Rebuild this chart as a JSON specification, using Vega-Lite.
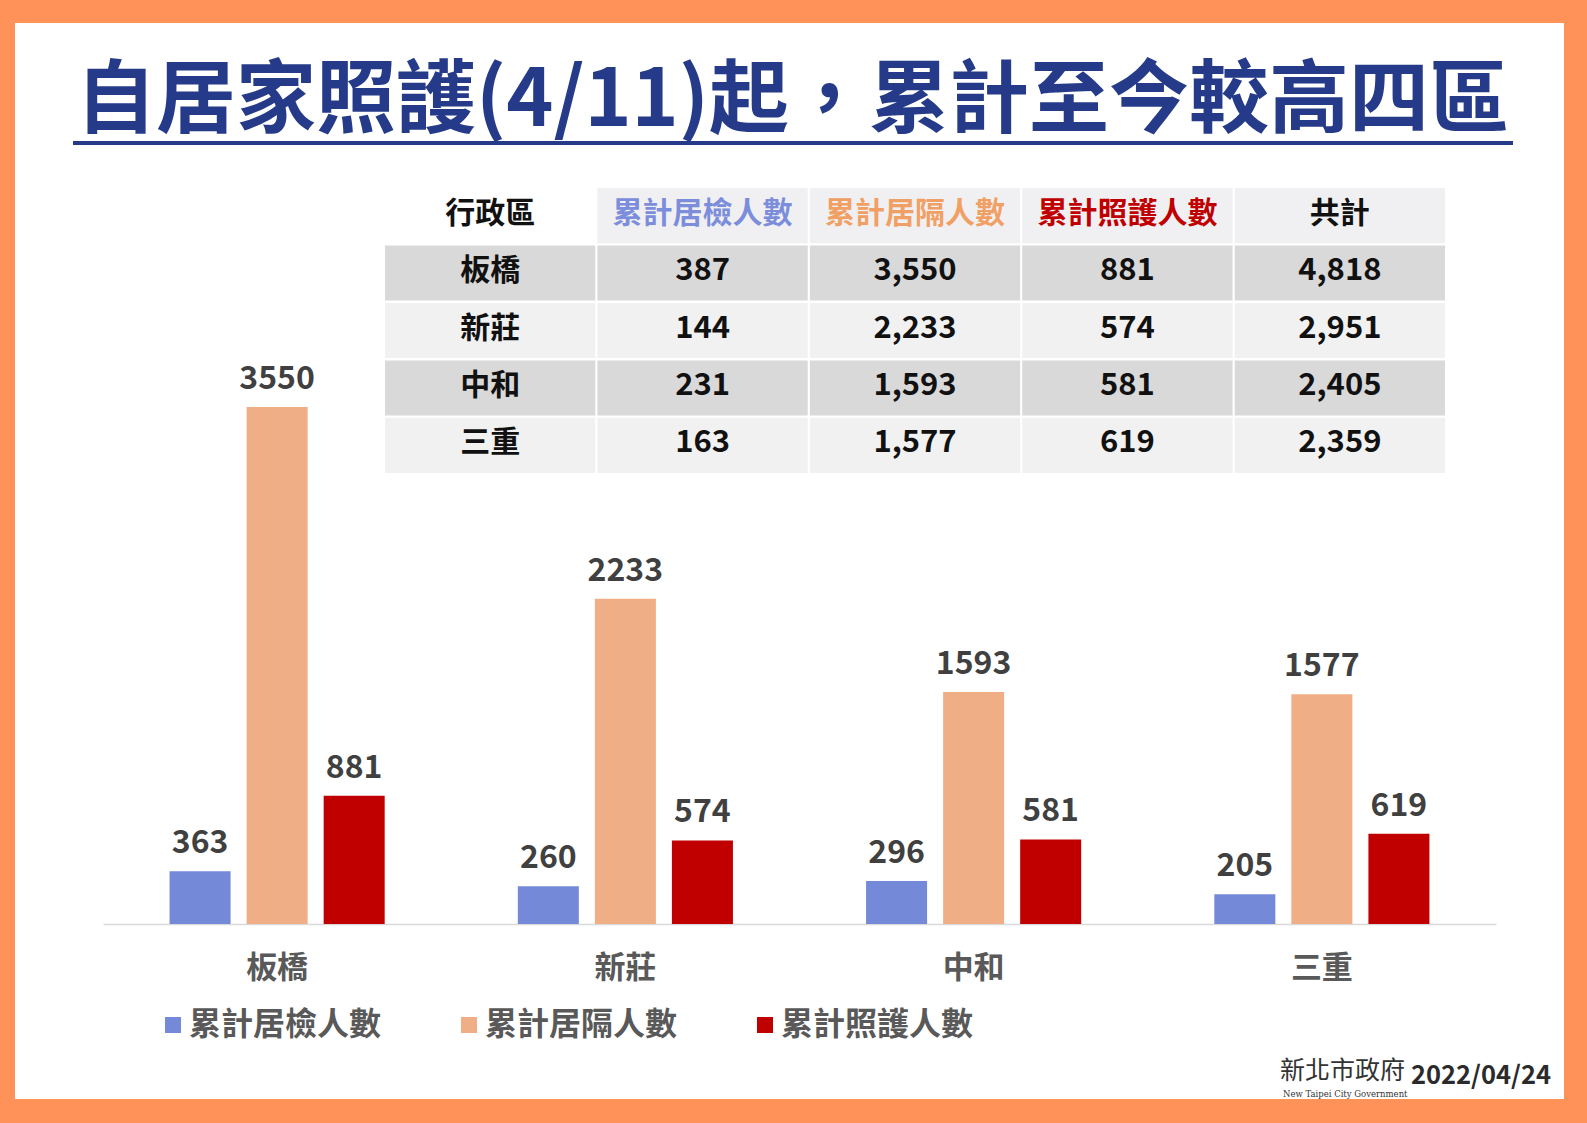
{
  "$schema": "https://vega.github.io/schema/vega-lite/v6.json",
  "width": 1549,
  "height": 1076,
  "autosize": "none",
  "padding": {"left": 15, "top": 23, "right": 23, "bottom": 24},
  "background": "#FF9259",
  "config": {"view": {"fill": "#FFFFFF", "stroke": null}, "font": "Noto Sans CJK TC"},
  "title": {"text": "自居家照護(4/11)起，累計至今較高四區", "font": "Noto Sans CJK TC", "fontSize": 80, "fontWeight": "bold", "color": "#253B8A", "anchor": "middle", "baseline": "alphabetic", "offset": 0, "dy": 183, "dx": 3},
  "datasets": {
    "bars": [
      {"district": "板橋", "series": "累計居檢人數", "value": 363},
      {"district": "板橋", "series": "累計居隔人數", "value": 3550},
      {"district": "板橋", "series": "累計照護人數", "value": 881},
      {"district": "新莊", "series": "累計居檢人數", "value": 260},
      {"district": "新莊", "series": "累計居隔人數", "value": 2233},
      {"district": "新莊", "series": "累計照護人數", "value": 574},
      {"district": "中和", "series": "累計居檢人數", "value": 296},
      {"district": "中和", "series": "累計居隔人數", "value": 1593},
      {"district": "中和", "series": "累計照護人數", "value": 581},
      {"district": "三重", "series": "累計居檢人數", "value": 205},
      {"district": "三重", "series": "累計居隔人數", "value": 1577},
      {"district": "三重", "series": "累計照護人數", "value": 619}
    ],
    "table": [
      {"district": "板橋", "累計居檢人數": 387, "累計居隔人數": 3550, "累計照護人數": 881, "共計": 4818},
      {"district": "新莊", "累計居檢人數": 144, "累計居隔人數": 2233, "累計照護人數": 574, "共計": 2951},
      {"district": "中和", "累計居檢人數": 231, "累計居隔人數": 1593, "累計照護人數": 581, "共計": 2405},
      {"district": "三重", "累計居檢人數": 163, "累計居隔人數": 1577, "累計照護人數": 619, "共計": 2359}
    ],
    "header": [
      {"col": "district", "label": "行政區"},
      {"col": "累計居檢人數", "label": "累計居檢人數"},
      {"col": "累計居隔人數", "label": "累計居隔人數"},
      {"col": "累計照護人數", "label": "累計照護人數"},
      {"col": "共計", "label": "共計"}
    ],
    "footer": [
      {"org": "新北市政府", "en": "New Taipei City Government", "date": "2022/04/24"}
    ]
  },
  "layer": [
    {
      "layer": [
        {
          "data": {"name": "header"},
          "transform": [{"filter": "datum.col !== 'district'"}],
          "mark": {"type": "rect", "fill": "#F0F0F2"},
          "encoding": {
            "x": {"field": "col", "type": "nominal", "scale": {"type": "band", "domain": ["district", "累計居檢人數", "累計居隔人數", "累計照護人數", "共計"], "range": [370, 1430], "paddingInner": 0.01, "paddingOuter": 0}, "axis": null},
            "y": {"datum": "header", "type": "nominal", "scale": {"type": "band", "domain": ["header", "板橋", "新莊", "中和", "三重"], "range": [165, 450], "paddingInner": 0.04, "paddingOuter": 0}, "axis": null}
          }
        },
        {
          "data": {"name": "table"},
          "transform": [{"fold": ["district", "累計居檢人數", "累計居隔人數", "累計照護人數", "共計"], "as": ["col", "v"]}],
          "mark": {"type": "rect"},
          "encoding": {
            "x": {"field": "col", "type": "nominal", "scale": {"type": "band", "domain": ["district", "累計居檢人數", "累計居隔人數", "累計照護人數", "共計"], "range": [370, 1430], "paddingInner": 0.01, "paddingOuter": 0}, "axis": null},
            "y": {"field": "district", "type": "nominal", "scale": {"type": "band", "domain": ["header", "板橋", "新莊", "中和", "三重"], "range": [165, 450], "paddingInner": 0.04, "paddingOuter": 0}, "axis": null},
            "fill": {"field": "district", "type": "nominal", "scale": {"domain": ["板橋", "新莊", "中和", "三重"], "range": ["#D9D9D9", "#F1F1F1", "#D9D9D9", "#F1F1F1"]}, "legend": null}
          }
        },
        {
          "data": {"name": "header"},
          "mark": {"type": "text", "fontSize": 30, "fontWeight": "bold", "baseline": "middle", "align": "center", "dy": -2},
          "encoding": {
            "x": {"field": "col", "type": "nominal", "scale": {"type": "band", "domain": ["district", "累計居檢人數", "累計居隔人數", "累計照護人數", "共計"], "range": [370, 1430], "paddingInner": 0.01, "paddingOuter": 0}, "axis": null},
            "y": {"datum": "header", "type": "nominal", "scale": {"type": "band", "domain": ["header", "板橋", "新莊", "中和", "三重"], "range": [165, 450], "paddingInner": 0.04, "paddingOuter": 0}, "axis": null},
            "text": {"field": "label", "type": "nominal"},
            "color": {"field": "col", "type": "nominal", "scale": {"domain": ["district", "累計居檢人數", "累計居隔人數", "累計照護人數", "共計"], "range": ["#111111", "#7B8DDB", "#F0A064", "#C00000", "#111111"]}, "legend": null}
          }
        },
        {
          "data": {"name": "table"},
          "mark": {"type": "text", "fontSize": 30, "fontWeight": "bold", "baseline": "middle", "align": "center", "color": "#111111", "dy": -2},
          "encoding": {
            "x": {"datum": "district", "type": "nominal", "scale": {"type": "band", "domain": ["district", "累計居檢人數", "累計居隔人數", "累計照護人數", "共計"], "range": [370, 1430], "paddingInner": 0.01, "paddingOuter": 0}, "axis": null},
            "y": {"field": "district", "type": "nominal", "scale": {"type": "band", "domain": ["header", "板橋", "新莊", "中和", "三重"], "range": [165, 450], "paddingInner": 0.04, "paddingOuter": 0}, "axis": null},
            "text": {"field": "district", "type": "nominal"}
          }
        },
        {
          "data": {"name": "table"},
          "transform": [{"fold": ["累計居檢人數", "累計居隔人數", "累計照護人數", "共計"], "as": ["col", "v"]}],
          "mark": {"type": "text", "fontSize": 31, "fontWeight": "bold", "baseline": "middle", "align": "center", "color": "#111111", "dy": -2},
          "encoding": {
            "x": {"field": "col", "type": "nominal", "scale": {"type": "band", "domain": ["district", "累計居檢人數", "累計居隔人數", "累計照護人數", "共計"], "range": [370, 1430], "paddingInner": 0.01, "paddingOuter": 0}, "axis": null},
            "y": {"field": "district", "type": "nominal", "scale": {"type": "band", "domain": ["header", "板橋", "新莊", "中和", "三重"], "range": [165, 450], "paddingInner": 0.04, "paddingOuter": 0}, "axis": null},
            "text": {"field": "v", "type": "quantitative", "format": ","}
          }
        }
      ]
    },
    {
      "data": {"name": "bars"},
      "layer": [
        {
          "mark": {"type": "bar"},
          "encoding": {
            "x": {"field": "district", "type": "nominal", "sort": ["板橋", "新莊", "中和", "三重"], "scale": {"type": "band", "domain": ["板橋", "新莊", "中和", "三重"], "range": [88, 1481], "paddingInner": 0, "paddingOuter": 0},
              "axis": {"orient": "bottom", "offset": -175, "title": null, "labelAngle": 0, "domainColor": "#D9D9D9", "domainWidth": 1.5, "ticks": false, "labelFontSize": 31, "labelFontWeight": "bold", "labelColor": "#595959", "labelPadding": 29, "labelFont": "Noto Sans CJK TC"}},
            "xOffset": {"field": "series", "type": "nominal", "sort": ["累計居檢人數", "累計居隔人數", "累計照護人數"], "scale": {"domain": ["累計居檢人數", "累計居隔人數", "累計照護人數"], "paddingInner": 0.208, "paddingOuter": 0.864}},
            "y": {"field": "value", "type": "quantitative", "scale": {"domain": [0, 3550], "range": [901, 384], "nice": false, "zero": true}, "axis": null},
            "color": {"field": "series", "type": "nominal", "scale": {"domain": ["累計居檢人數", "累計居隔人數", "累計照護人數"], "range": ["#7489D8", "#EFAE86", "#C00000"]},
              "legend": {"orient": "none", "legendX": 142, "legendY": 986, "direction": "horizontal", "title": null, "symbolType": "square", "symbolSize": 256, "symbolStrokeWidth": 0, "labelFontSize": 32, "labelFontWeight": "bold", "labelColor": "#595959", "labelOffset": 0, "columnPadding": 71, "padding": 0, "labelLimit": 400, "labelFont": "Noto Sans CJK TC"}}
          }
        },
        {
          "mark": {"type": "text", "dy": -18, "fontSize": 32, "fontWeight": "bold", "color": "#404040", "baseline": "alphabetic", "align": "center"},
          "encoding": {
            "x": {"field": "district", "type": "nominal", "sort": ["板橋", "新莊", "中和", "三重"], "scale": {"type": "band", "domain": ["板橋", "新莊", "中和", "三重"], "range": [88, 1481], "paddingInner": 0, "paddingOuter": 0}},
            "xOffset": {"field": "series", "type": "nominal", "sort": ["累計居檢人數", "累計居隔人數", "累計照護人數"], "scale": {"domain": ["累計居檢人數", "累計居隔人數", "累計照護人數"], "paddingInner": 0.208, "paddingOuter": 0.864}},
            "y": {"field": "value", "type": "quantitative", "scale": {"domain": [0, 3550], "range": [901, 384], "nice": false, "zero": true}},
            "text": {"field": "value", "type": "quantitative"}
          }
        }
      ]
    },
    {
      "data": {"name": "footer"},
      "mark": {"type": "rule", "color": "#253B8A", "strokeWidth": 4},
      "encoding": {"x": {"value": 58}, "x2": {"value": 1498}, "y": {"value": 120}}
    },
    {
      "data": {"name": "footer"},
      "layer": [
        {
          "mark": {"type": "text", "fontSize": 25.5, "fontWeight": "bold", "color": "#2B2B2B", "align": "right", "baseline": "middle"},
          "encoding": {"x": {"value": 1536}, "y": {"value": 1053}, "text": {"field": "date", "type": "nominal"}}
        },
        {
          "mark": {"type": "text", "fontSize": 25, "color": "#333333", "align": "left", "baseline": "middle", "font": "Noto Sans CJK TC"},
          "encoding": {"x": {"value": 1265}, "y": {"value": 1048}, "text": {"field": "org", "type": "nominal"}}
        },
        {
          "mark": {"type": "text", "fontSize": 8.5, "color": "#333333", "align": "left", "baseline": "middle", "font": "DejaVu Serif"},
          "encoding": {"x": {"value": 1268}, "y": {"value": 1071}, "text": {"field": "en", "type": "nominal"}}
        }
      ]
    }
  ],
  "resolve": {"scale": {"x": "independent", "y": "independent", "color": "independent", "fill": "independent"}}
}
